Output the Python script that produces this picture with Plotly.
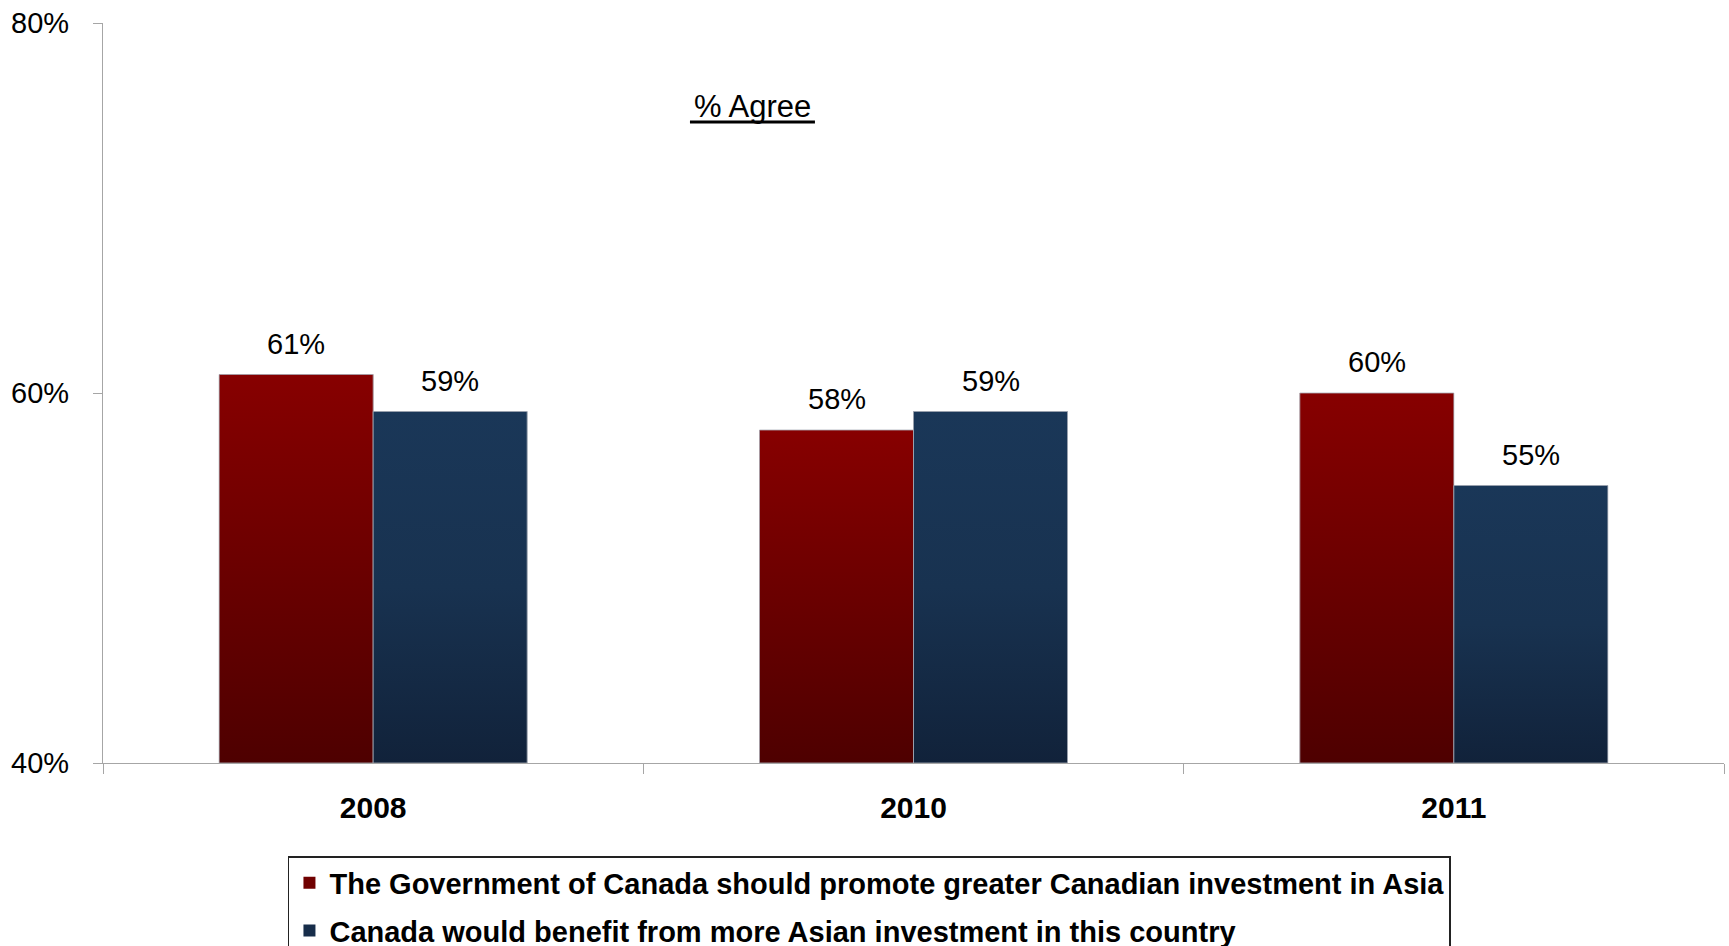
import plotly.graph_objects as go

# Survey results: share agreeing with each statement, by year
years = ["2008", "2010", "2011"]
promote_asia = [61, 58, 60]      # Government should promote Canadian investment in Asia
benefit_canada = [59, 59, 55]    # Canada would benefit from more Asian investment
series_names = [
    "The Government of Canada should promote greater Canadian investment in Asia",
    "Canada would benefit from more Asian investment in this country",
]
y_ticks = [40, 60, 80]
y_tick_labels = [f"{v}%" for v in y_ticks]

BASE = 40
BAR_W = 0.285
BAR_GAP = 1 - 2 * BAR_W

red_solid = "#700000"
blue_solid = "#172d4a"
red_scale = [[0, "#4e0000"], [1, "#870000"]]
blue_scale = [[0, "#11223a"], [0.5, "#183250"], [1, "#1a3758"]]
axis_grey = "#a6a6a6"
FONT = "Liberation Sans, Arial, sans-serif"

fig = go.Figure()

# Bar traces: provide category layout and legend entries
for name, vals, col in [(series_names[0], promote_asia, red_solid),
                        (series_names[1], benefit_canada, blue_solid)]:
    fig.add_trace(go.Bar(
        x=years, y=[v - BASE for v in vals], base=BASE, name=name,
        marker=dict(color=col, line=dict(width=0)),
        hoverinfo="skip", legendgroup=name,
    ))

# Gradient-filled bar faces on a numeric overlay axis
for offset, vals, scale in [(-BAR_W, promote_asia, red_scale),
                            (0.0, benefit_canada, blue_scale)]:
    for i, v in enumerate(vals):
        x0, x1 = i + offset, i + offset + BAR_W
        fig.add_trace(go.Scatter(
            x=[x0, x1, x1, x0, x0], y=[BASE, BASE, v, v, BASE],
            xaxis="x2", mode="lines", fill="toself",
            line=dict(color="rgba(170,175,185,0.8)", width=1),
            fillgradient=dict(type="vertical", colorscale=scale, start=BASE, stop=v),
            showlegend=False, hoverinfo="skip",
        ))
        fig.add_annotation(
            x=i + offset + BAR_W / 2, y=v, xref="x2", yref="y",
            text=f"{v}%", showarrow=False, yanchor="bottom", yshift=13,
            font=dict(family=FONT, size=29, color="black"),
        )

# Chart heading with a heavy underline
fig.add_annotation(
    x=0.4004, y=0.8865, xref="paper", yref="paper",
    text="% Agree", showarrow=False, yanchor="middle", xanchor="center",
    font=dict(family=FONT, size=31, color="black"),
)
fig.add_shape(
    type="line", xref="paper", yref="paper",
    x0=0.3621, x1=0.4392, y0=0.8662, y1=0.8662,
    line=dict(color="black", width=3),
)

fig.update_layout(
    width=1729, height=946,
    margin=dict(l=103, r=5, t=23, b=183, autoexpand=False),
    paper_bgcolor="white", plot_bgcolor="white",
    barmode="group", bargap=BAR_GAP,
    showlegend=True,
    legend=dict(
        x=0.1141, y=-0.1257, xanchor="left", yanchor="top",
        orientation="v", traceorder="grouped", tracegroupgap=7,
        bordercolor="#222222", borderwidth=1.5, bgcolor="white",
        font=dict(family="Liberation Sans Narrow, Arial Narrow, Liberation Sans, sans-serif",
                  size=29, color="black", weight="bold"),
    ),
    xaxis=dict(
        type="category", range=[-0.5, 2.5], tickson="boundaries",
        ticks="outside", ticklen=10, tickcolor=axis_grey, tickwidth=1.3,
        showline=True, linecolor=axis_grey, linewidth=1.3,
        showgrid=False, zeroline=False, ticklabelstandoff=18,
        tickfont=dict(family=FONT, size=30, color="black", weight="bold"),
    ),
    xaxis2=dict(range=[-0.5, 2.5], overlaying="x", visible=False),
    yaxis=dict(
        range=[40, 80], tickmode="array", tickvals=y_ticks, ticktext=y_tick_labels,
        ticks="outside", ticklen=9, tickcolor=axis_grey, tickwidth=1.3,
        showline=True, linecolor=axis_grey, linewidth=1.3,
        showgrid=False, zeroline=False, ticklabelstandoff=18,
        tickfont=dict(family=FONT, size=29, color="black"),
    ),
)

fig.write_html("out.html")
